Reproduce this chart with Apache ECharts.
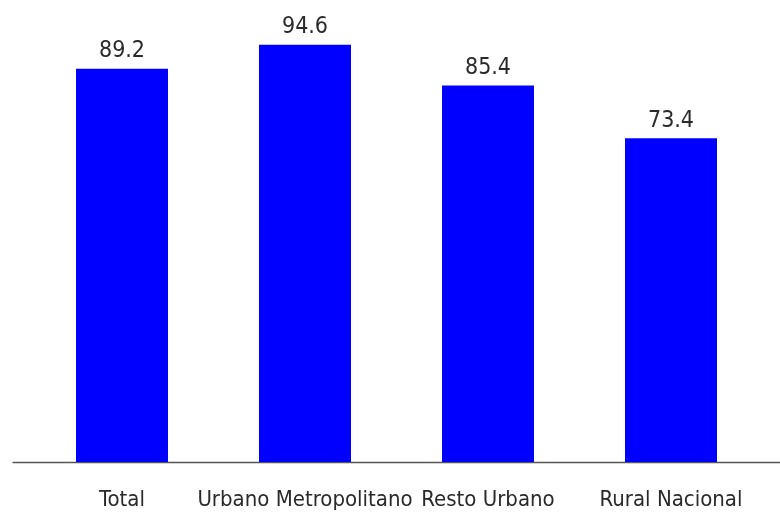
<!DOCTYPE html>
<html lang="es">
<head>
    <meta charset="UTF-8">
    <title>Gráfico de barras</title>
    <script src="https://cdn.jsdelivr.net/npm/echarts@6/dist/echarts.min.js"></script>
    <style>
        body { margin: 0; padding: 0; background: #fff; }
        #chart { width: 780px; height: 514px; }
    </style>
</head>
<body>
    <div id="chart"></div>
    <script>
        // datos
        const categories = ['Total', 'Urbano Metropolitano', 'Resto Urbano', 'Rural Nacional'];
        const values = [89.2, 94.6, 85.4, 73.4];

        const chart = echarts.init(document.getElementById('chart'));
        const font = '"Liberation Sans Narrow", "DejaVu Sans Condensed", sans-serif';

        const option = {
            backgroundColor: '#fff',
            animation: false,
            grid: [
                { left: 30.5, right: 17.5, top: 21, bottom: 52 },
                // solo para la linea base, que llega a los bordes
                { left: 13, right: 0, top: 21, bottom: 52 }
            ],
            xAxis: [{
                type: 'category',
                gridIndex: 0,
                data: categories,
                axisLine: { show: false },
                axisTick: { show: false },
                axisLabel: {
                    interval: 0,
                    margin: 27,
                    fontSize: 22,
                    fontFamily: font,
                    color: '#2a2a2a'
                }
            }, {
                type: 'value',
                gridIndex: 1,
                min: 0,
                max: 1,
                axisLine: { show: true, lineStyle: { color: '#555', width: 1.3 } },
                axisTick: { show: false },
                axisLabel: { show: false },
                splitLine: { show: false }
            }],
            yAxis: [{
                type: 'value',
                gridIndex: 0,
                min: 0,
                max: 100,
                show: false
            }, {
                type: 'value',
                gridIndex: 1,
                min: 0,
                max: 1,
                show: false
            }],
            series: [{
                type: 'bar',
                xAxisIndex: 0,
                yAxisIndex: 0,
                data: values,
                barWidth: 92,
                itemStyle: { color: '#0000ff' },
                label: {
                    show: true,
                    position: 'top',
                    distance: 6,
                    fontSize: 23,
                    fontFamily: font,
                    color: '#2a2a2a'
                }
            }]
        };

        chart.setOption(option);
    </script>
</body>
</html>
